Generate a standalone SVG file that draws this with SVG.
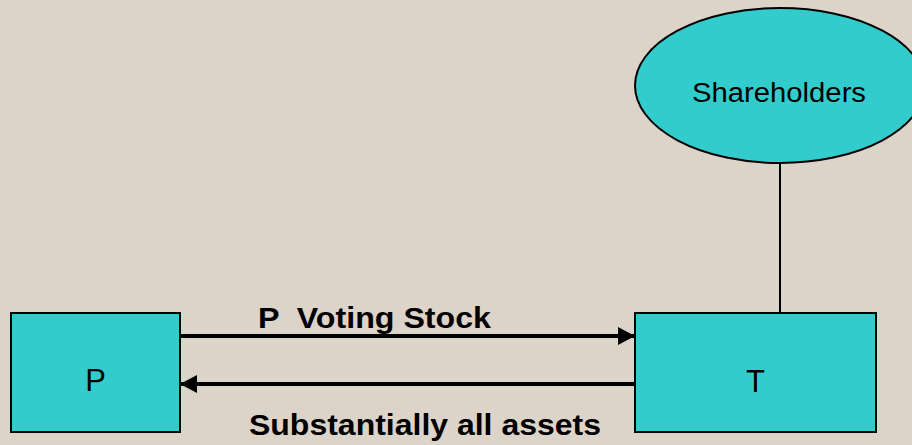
<svg xmlns="http://www.w3.org/2000/svg" width="912" height="445" viewBox="0 0 912 445">
  <style>
    .node { fill: #33CCCC; stroke: #000; stroke-width: 2; }
    .label { font-family: "Liberation Sans", Arial, sans-serif; fill: #000; }
    .bold { font-weight: bold; font-size: 29px; }
    .flow { stroke: #000; stroke-width: 4; fill: none; }
    .tie { stroke: #000; stroke-width: 2; fill: none; }
  </style>
  <defs>
    <marker id="head" markerUnits="userSpaceOnUse" markerWidth="18" markerHeight="18" refX="17" refY="9" orient="auto">
      <path d="M0,0 L17,9 L0,18 Z" fill="#000"/>
    </marker>
  </defs>

  <!-- background -->
  <rect x="0" y="0" width="912" height="445" fill="#DCD3C9"/>

  <!-- connectors -->
  <g id="connectors">
    <line class="tie" x1="780" y1="163" x2="780" y2="313"/>
    <line class="flow" x1="178" y1="336" x2="635" y2="336" marker-end="url(#head)"/>
    <line class="flow" x1="637" y1="384" x2="180" y2="384" marker-end="url(#head)"/>
    <text class="label bold" x="258" y="328" xml:space="preserve" textLength="233" lengthAdjust="spacingAndGlyphs">P  Voting Stock</text>
    <text class="label bold" x="249" y="435" textLength="352" lengthAdjust="spacingAndGlyphs">Substantially all assets</text>
  </g>

  <!-- nodes -->
  <g id="shareholders">
    <ellipse class="node" cx="780" cy="85.5" rx="145" ry="77.5"/>
    <text class="label" x="692" y="102" font-size="27" textLength="174" lengthAdjust="spacingAndGlyphs">Shareholders</text>
  </g>
  <g id="node-p">
    <rect class="node" x="11" y="313" width="169" height="119"/>
    <text class="label" x="95.5" y="391" font-size="31" text-anchor="middle">P</text>
  </g>
  <g id="node-t">
    <rect class="node" x="635" y="313" width="241" height="119"/>
    <text class="label" x="755.5" y="392" font-size="31" text-anchor="middle">T</text>
  </g>
</svg>
